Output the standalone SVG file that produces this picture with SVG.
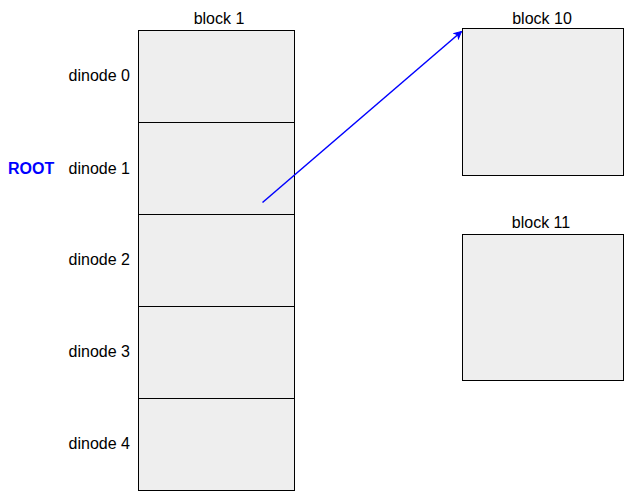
<svg xmlns="http://www.w3.org/2000/svg" width="624" height="491" viewBox="0 0 624 491">
<style>
text{font-family:"Liberation Sans",Arial,sans-serif;font-size:16px;fill:#000}
.lbl{text-anchor:end}
.ttl{text-anchor:middle}
.cell{fill:#eeeeee;stroke:#000;stroke-width:1}
.root{fill:#0000ff;font-weight:bold}
</style>
<defs>
<marker id="ah" markerWidth="10" markerHeight="10" refX="8" refY="5" orient="auto" markerUnits="userSpaceOnUse">
<path d="M1,1.5 L8,5 L1,8.5 L3,5 Z" fill="#0000ff" stroke="#0000ff" stroke-width="1"/>
</marker>
</defs>
<rect width="624" height="491" fill="#fff"/>
<g id="block1">
<text class="ttl" x="219" y="24">block 1</text>
<g id="dinode0"><rect class="cell" x="138.5" y="30.5" width="156" height="92"/><text class="lbl" x="130" y="81">dinode 0</text></g>
<g id="dinode1"><rect class="cell" x="138.5" y="122.5" width="156" height="92"/><text class="lbl" x="130" y="174">dinode 1</text><text class="root" x="8" y="174">ROOT</text></g>
<g id="dinode2"><rect class="cell" x="138.5" y="214.5" width="156" height="92"/><text class="lbl" x="130" y="265">dinode 2</text></g>
<g id="dinode3"><rect class="cell" x="138.5" y="306.5" width="156" height="92"/><text class="lbl" x="130" y="357">dinode 3</text></g>
<g id="dinode4"><rect class="cell" x="138.5" y="398.5" width="156" height="92"/><text class="lbl" x="130" y="449">dinode 4</text></g>
</g>
<g id="block10"><rect class="cell" x="462.5" y="28.5" width="161" height="147"/><text class="ttl" x="542" y="24">block 10</text></g>
<g id="block11"><rect class="cell" x="462.5" y="234.5" width="161" height="146"/><text class="ttl" x="541" y="228">block 11</text></g>
<g id="connectors">
<line x1="262.5" y1="202.5" x2="461.5" y2="31.5" stroke="#0000ff" stroke-width="1.5" marker-end="url(#ah)"/>
</g>
</svg>
